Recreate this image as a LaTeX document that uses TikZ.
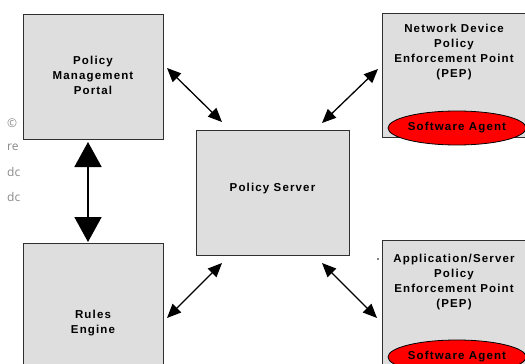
\documentclass[tikz,border=0pt]{standalone}
\usepackage{fontspec}
\setmainfont{Liberation Sans}
\newfontfamily\lblfont[LetterSpace=10]{Liberation Sans}
\newfontfamily\grayfont{Open Sans}
\usetikzlibrary{arrows.meta,shapes.geometric}
\definecolor{boxgray}{HTML}{DEDEDE}
\definecolor{edgegray}{HTML}{303030}
\definecolor{wmgray}{HTML}{8A8A8A}
\tikzset{
  box/.style={draw=edgegray, fill=boxgray, line width=1.3pt, rectangle, inner sep=0pt, anchor=north west},
  lbl/.style={font=\lblfont\bfseries\fontsize{11.5}{15}\selectfont, align=center, inner sep=0pt, text=black},
  agent/.style={ellipse, draw=black, fill=red, line width=0.8pt, inner sep=0pt},
  darrow/.style={line width=1.3pt, {Triangle[length=14pt,width=12pt]}-{Triangle[length=14pt,width=12pt]}},
  bigarrow/.style={line width=1.8pt, {Triangle[length=25pt,width=27pt]}-{Triangle[length=25pt,width=27pt]}},
  wm/.style={font=\grayfont\fontsize{12}{13}\selectfont, text=wmgray, inner sep=0pt, anchor=west},
}
\begin{document}
\begin{tikzpicture}[x=1pt,y=-1pt]
\useasboundingbox (0,0) rectangle (525,364);
\clip (0,0) rectangle (525,364);
% watermark fragments
\begin{scope}
\clip (0,0) rectangle (22,364);
\node[wm] (w1) at (7,123) {©};
\node[wm] (w2) at (7,147) {re};
\node[wm] (w3) at (7,172) {dc};
\node[wm] (w4) at (7,197) {dc};
\end{scope}
% boxes
\node[box, minimum width=140pt, minimum height=125pt] (pmp) at (23,14) {};
\node[lbl] (pmpt) at (93,75) {Policy\\Management\\Portal};
\node[box, minimum width=150pt, minimum height=124pt] (npep) at (382,13) {};
\node[lbl] (npept) at (454,52) {Network Device\\Policy\\Enforcement Point\\(PEP)};
\node[agent, minimum width=138pt, minimum height=34pt] (nag) at (457,128) {};
\node[lbl] (nagt) at (457,128) {Software Agent};
\node[box, minimum width=153pt, minimum height=125pt] (srv) at (196,130) {};
\node[lbl] (srvt) at (272.5,189) {Policy Server};
\node[box, minimum width=140pt, minimum height=130pt] (rul) at (23,243) {};
\node[lbl] (rult) at (93,323) {Rules\\Engine};
\node[box, minimum width=150pt, minimum height=130pt] (apep) at (382,240) {};
\node[lbl] (apept) at (454,282) {Application/Server\\Policy\\Enforcement Point\\(PEP)};
\node[agent, minimum width=138pt, minimum height=34pt] (aag) at (457,357) {};
\node[lbl] (aagt) at (457,357) {Software Agent};
\fill[black] (378,259) circle (0.8pt);
% arrow end points
\coordinate (a1a) at (167,68);
\coordinate (a1b) at (222,122);
\coordinate (a2a) at (322,123);
\coordinate (a2b) at (378,69);
\coordinate (a3a) at (88,142);
\coordinate (a3b) at (88,242);
\coordinate (a4a) at (222,263);
\coordinate (a4b) at (167,318);
\coordinate (a5a) at (322,263);
\coordinate (a5b) at (377,318);
\draw[darrow] (a1a) -- (a1b);
\draw[darrow] (a2a) -- (a2b);
\draw[bigarrow] (a3a) -- (a3b);
\draw[darrow] (a4a) -- (a4b);
\draw[darrow] (a5a) -- (a5b);
\end{tikzpicture}
\end{document}
